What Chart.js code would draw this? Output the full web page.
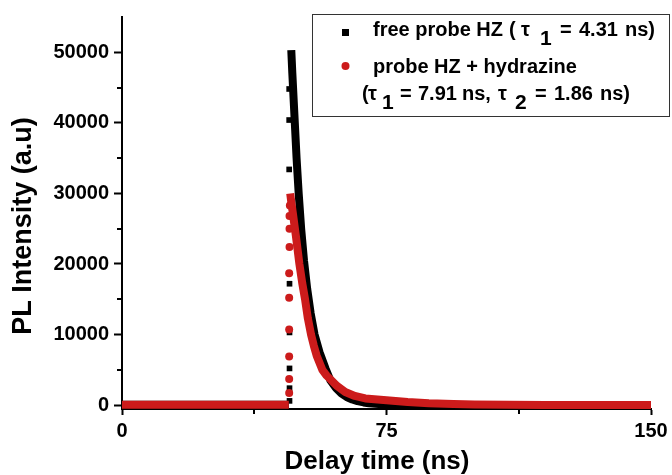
<!DOCTYPE html>
<html>
<head>
<meta charset="utf-8">
<script src="https://cdn.jsdelivr.net/npm/chart.js@4/dist/chart.umd.min.js"></script>
<style>
  html, body { margin: 0; padding: 0; background: #fff; }
  #wrap { width: 672px; height: 475px; position: relative; }
</style>
</head>
<body>
<div id="wrap"><canvas id="decay" width="672" height="475"></canvas></div>
<script>
// ---- data (time in ns, intensity in a.u.) ----
const xMajorTicks = [0, 75, 150];
const xMinorTicks = [37.5, 112.5];
const yMajorTicks = [0, 10000, 20000, 30000, 40000, 50000];
const yMinorTicks = [5000, 15000, 25000, 35000, 45000];

// free probe HZ (black squares)
const blackBaseTime = [0, 47.3];
const blackBaseValue = [50, 50];
const blackRiseTime = [47.5, 47.5, 47.5, 47.5, 47.5, 47.4, 47.4, 47.4];
const blackRiseValue = [600, 2400, 5200, 10300, 17200, 33400, 40400, 44800];
const blackDecayTime = [48.0, 48.3, 48.7, 49.1, 49.5, 50.1, 50.8, 51.6, 52.5, 53.5, 54.6, 56.0, 57.7, 59.1, 60.7, 62.2, 63.7, 65.3, 66.8, 68.5, 70, 72.8, 76, 82, 90, 110, 150];
const blackDecayValue = [50300, 47000, 43000, 39000, 35000, 30000, 25000, 20500, 16500, 13000, 10000, 7500, 5200, 3500, 2400, 1650, 1150, 800, 560, 380, 270, 140, 65, 15, 0, 0, 0];

// probe HZ + hydrazine (red circles)
const redBaseTime = [0, 47.3];
const redBaseValue = [50, 50];
const redRiseTime = [47.4, 47.4, 47.4, 47.4, 47.4, 47.4, 47.5, 47.5, 47.5, 47.6];
const redRiseValue = [1700, 3700, 6900, 10700, 15200, 18700, 22400, 25000, 26800, 28300];
const redDecayTime = [47.7, 48.0, 48.5, 49.3, 50.3, 51.1, 51.9, 52.7, 53.6, 54.4, 55.2, 56.8, 58.0, 59.0, 61.0, 63.3, 66, 69, 75, 81, 87, 94, 100, 110, 120, 135, 150];
const redDecayValue = [30000, 28800, 27000, 24000, 20000, 17300, 15000, 12300, 10000, 8400, 7000, 5000, 4200, 3700, 2700, 1850, 1300, 950, 700, 450, 280, 170, 100, 60, 30, 10, 0];

const RED = '#cc1b1b';
const BLACK = '#000000';
const FONT = "'Liberation Sans', Arial, sans-serif";

const pts = (xs, ys) => xs.map((x, i) => ({ x: x, y: ys[i] }));

const lineSet = (xs, ys, color, order) => ({
    data: pts(xs, ys),
    showLine: true,
    borderColor: color,
    backgroundColor: color,
    borderWidth: 8,
    borderJoinStyle: 'round',
    borderCapStyle: 'butt',
    pointRadius: 0,
    clip: 0,
    order: order,
});

const dotSet = (xs, ys, color, style, order) => ({
    data: pts(xs, ys),
    showLine: false,
    backgroundColor: color,
    borderColor: color,
    borderWidth: 0,
    pointStyle: style,
    pointRadius: 4,
    clip: 0,
    order: order,
});

// minor ticks (shorter than the major ones)
const minorTicks = {
    id: 'minorTicks',
    afterDatasetsDraw(chart) {
        const { ctx, scales: { x, y }, chartArea } = chart;
        ctx.save();
        ctx.strokeStyle = BLACK;
        ctx.lineWidth = 2;
        ctx.beginPath();
        xMinorTicks.forEach(v => {
            const px = Math.round(x.getPixelForValue(v));
            ctx.moveTo(px, chartArea.bottom);
            ctx.lineTo(px, chartArea.bottom + 5);
        });
        yMinorTicks.forEach(v => {
            const py = Math.round(y.getPixelForValue(v));
            ctx.moveTo(chartArea.left, py);
            ctx.lineTo(chartArea.left - 5, py);
        });
        ctx.stroke();
        ctx.restore();
    }
};

// axis titles, placed like the original (a little off the plot centre)
const axisTitles = {
    id: 'axisTitles',
    afterDraw(chart) {
        const ctx = chart.ctx;
        ctx.save();
        ctx.fillStyle = BLACK;
        ctx.textAlign = 'center';
        ctx.textBaseline = 'middle';
        ctx.font = 'bold 26px ' + FONT;
        ctx.fillText('Delay time (ns)', 377, 462);
        ctx.translate(24, 226);
        ctx.rotate(-Math.PI / 2);
        ctx.font = 'bold 27px ' + FONT;
        ctx.fillText('PL Intensity (a.u)', 0, 0);
        ctx.restore();
    }
};

// legend box with subscripts
const legendBox = {
    id: 'legendBox',
    afterDraw(chart) {
        const ctx = chart.ctx;
        const main = 'bold 20px ' + FONT;
        const sub = 'bold 21px ' + FONT;
        const row = (items, y) => {
            items.forEach(([txt, x, isSub]) => {
                ctx.font = isSub ? sub : main;
                ctx.fillText(txt, x, isSub ? y + 9 : y);
            });
        };
        ctx.save();
        ctx.fillStyle = '#fff';
        ctx.fillRect(312.5, 14.5, 357, 102);
        ctx.strokeStyle = '#333';
        ctx.lineWidth = 1;
        ctx.strokeRect(312.5, 14.5, 357, 102);

        ctx.fillStyle = BLACK;
        ctx.fillRect(342, 29, 7, 7);
        ctx.fillStyle = RED;
        ctx.beginPath();
        ctx.arc(345.5, 66, 4, 0, Math.PI * 2);
        ctx.fill();

        ctx.fillStyle = BLACK;
        ctx.textBaseline = 'alphabetic';
        ctx.textAlign = 'left';
        row([['free probe HZ', 373], ['(', 509], ['\u03c4', 521], ['1', 540, true], ['=', 560], ['4.31', 579], ['ns)', 625]], 36);
        row([['probe HZ + hydrazine', 373]], 73);
        row([['(', 362], ['\u03c4', 368], ['1', 382, true], ['=', 400], ['7.91', 418], ['ns,', 462], ['\u03c4', 498], ['2', 515, true], ['=', 535], ['1.86', 554], ['ns)', 600]], 100);
        ctx.restore();
    }
};

new Chart(document.getElementById('decay'), {
    type: 'scatter',
    data: {
        datasets: [
            lineSet(redBaseTime, redBaseValue, RED, 0),
            lineSet(redDecayTime, redDecayValue, RED, 1),
            dotSet(redRiseTime, redRiseValue, RED, 'circle', 2),
            lineSet(blackBaseTime, blackBaseValue, BLACK, 3),
            lineSet(blackDecayTime, blackDecayValue, BLACK, 4),
            dotSet(blackRiseTime, blackRiseValue, BLACK, 'rect', 5),
        ]
    },
    options: {
        responsive: false,
        animation: false,
        devicePixelRatio: 1,
        layout: { padding: { top: 14, right: 21, left: 0, bottom: 0 } },
        plugins: { legend: { display: false }, tooltip: { enabled: false } },
        scales: {
            x: {
                type: 'linear',
                min: 0,
                max: 150,
                afterBuildTicks: s => { s.ticks = xMajorTicks.map(v => ({ value: v })); },
                afterFit: s => { s.height = 66; },
                grid: { drawOnChartArea: false, drawTicks: true, tickLength: 6, tickWidth: 2, tickColor: BLACK },
                border: { display: true, color: BLACK, width: 2 },
                ticks: { color: BLACK, padding: 4, maxRotation: 0, callback: v => String(v), font: { family: FONT, size: 20, weight: 'bold' } },
                title: { display: false }
            },
            y: {
                type: 'linear',
                min: -550,
                max: 55000,
                afterBuildTicks: s => { s.ticks = yMajorTicks.map(v => ({ value: v })); },
                afterFit: s => { s.width = 122; },
                grid: { drawOnChartArea: false, drawTicks: true, tickLength: 8, tickWidth: 2, tickColor: BLACK },
                border: { display: true, color: BLACK, width: 2 },
                ticks: { color: BLACK, padding: 5, callback: v => String(v), font: { family: FONT, size: 20, weight: 'bold' } },
                title: { display: false }
            }
        }
    },
    plugins: [minorTicks, axisTitles, legendBox]
});
</script>
</body>
</html>
